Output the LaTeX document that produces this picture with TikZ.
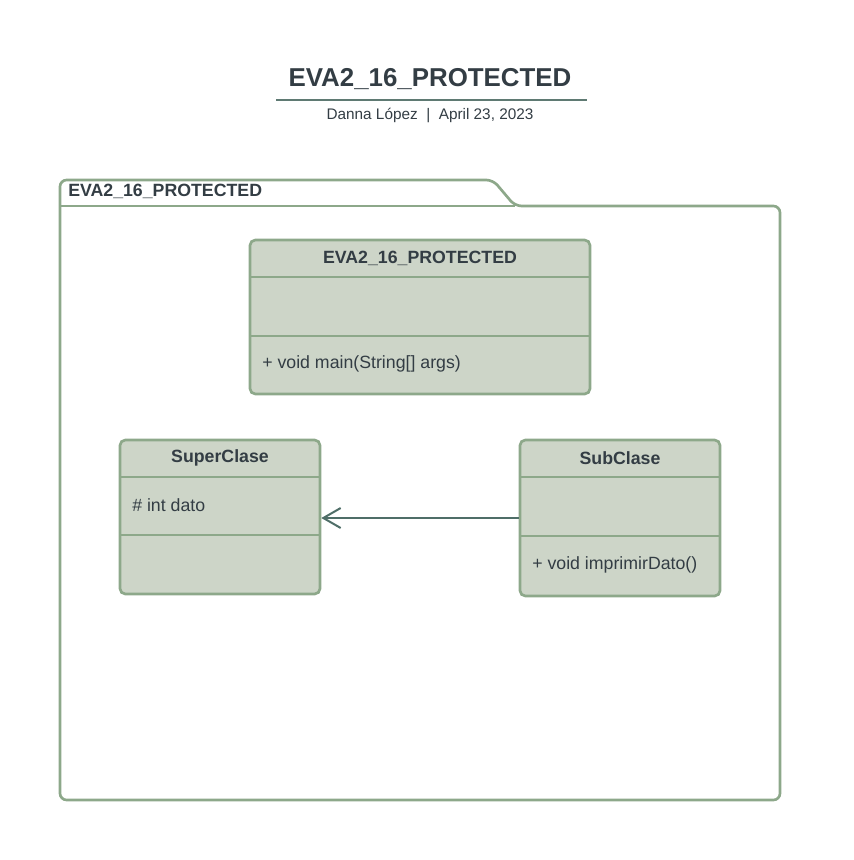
\documentclass[tikz,border=0pt]{standalone}
\usepackage{fontspec}
\setmainfont{Liberation Sans}
\usetikzlibrary{arrows.meta,positioning}
\definecolor{boxfill}{HTML}{CDD5C8}
\definecolor{boxline}{HTML}{8DA88A}
\definecolor{inktext}{HTML}{333D44}
\definecolor{ruleline}{HTML}{5F7A73}
\definecolor{linkline}{HTML}{4F6E68}
\tikzset{
  classbox/.style={draw=boxline, fill=boxfill, line width=2pt, rounded corners=4pt, inner sep=0pt},
  classline/.style={draw=boxline, line width=2pt},
  classname/.style={text=inktext, font=\fontsize{13.3}{15}\selectfont\bfseries},
  member/.style={text=inktext, font=\fontsize{13.3}{15}\selectfont, anchor=west, inner sep=0pt},
}
\begin{document}
\begin{tikzpicture}[x=0.75pt,y=-0.75pt]
  \useasboundingbox (0,0) rectangle (853,860);
  % heading
  \node[text=inktext, font=\fontsize{19.4}{22}\selectfont\bfseries] (title) at (430,79) {EVA2\_16\_PROTECTED};
  \draw[draw=ruleline, line width=1.5pt] (276,100) -- (587,100);
  \node[text=inktext, font=\fontsize{11.5}{13}\selectfont] (author) at (430,115) {Danna López~~|~~April 23, 2023};
  % package
  \draw[classline, rounded corners=5pt] (60,800) -- (60,180) -- (493,180) -- (515,206) -- (780,206) -- (780,800) -- cycle;
  \draw[classline] (60,206) -- (515,206);
  \node[classname, anchor=west, inner sep=0pt] (pkgname) at (68,191) {EVA2\_16\_PROTECTED};
  % main class
  \node[classbox, minimum width=255pt, minimum height=115.5pt] (mainbox) at (420,317) {};
  \draw[classline] (250,277) -- (590,277);
  \draw[classline] (250,336) -- (590,336);
  \node[classname] (mainname) at (420,258) {EVA2\_16\_PROTECTED};
  \node[member] (mainop) at (262,363.5) {+ void main(String[] args)};
  % SuperClase
  \node[classbox, minimum width=150pt, minimum height=115.5pt] (super) at (220,517) {};
  \draw[classline] (120,477) -- (320,477);
  \draw[classline] (120,535) -- (320,535);
  \node[classname] (supername) at (220,458) {SuperClase};
  \node[member] (superattr) at (132,505) {\# int dato};
  % SubClase
  \node[classbox, minimum width=150pt, minimum height=117pt] (sub) at (620,518) {};
  \draw[classline] (520,477) -- (720,477);
  \draw[classline] (520,536) -- (720,536);
  \node[classname] (subname) at (620,458) {SubClase};
  \node[member] (subop) at (532,565) {+ void imprimirDato()};
  % inheritance
  \draw[draw=linkline, line width=1.5pt, -{Straight Barb[length=13pt,width=15pt,line width=1.5pt]}] (sub.west) -- (sub.west -| super.east);
\end{tikzpicture}
\end{document}
